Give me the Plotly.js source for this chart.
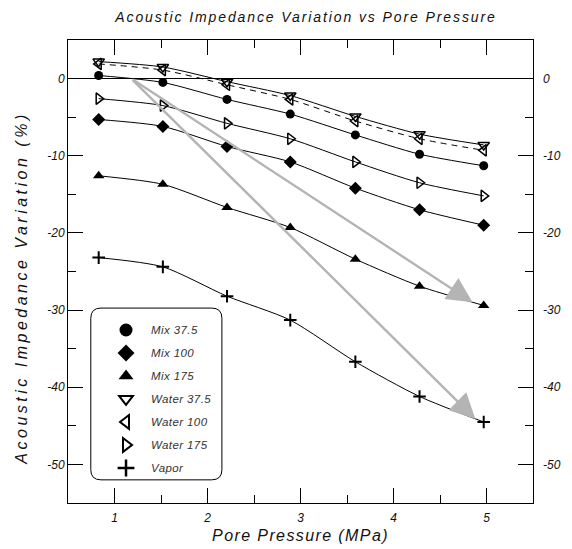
<!DOCTYPE html>
<html>
<head>
<meta charset="utf-8">
<script src="https://cdn.plot.ly/plotly-3.0.1.min.js"></script>
<style>
  html, body { margin: 0; padding: 0; background: #fff; }
  #chart { width: 572px; height: 549px; }
  .gtitle { letter-spacing: 1.9px; }
  .xtitle { letter-spacing: 1.4px; }
  .annotation-text { letter-spacing: 3.5px; }
  .legendtext { letter-spacing: 0.4px; }
</style>
</head>
<body>
<div id="chart"></div>
<script>
// ---- data ----
const porePressure = [0.83, 1.52, 2.21, 2.89, 3.59, 4.28, 4.97];

const mix375   = [0.4, -0.5, -2.7, -4.6, -7.3, -9.8, -11.3];
const mix100   = [-5.3, -6.2, -8.8, -10.8, -14.2, -17.0, -19.0];
const mix175   = [-12.6, -13.7, -16.7, -19.3, -23.4, -26.9, -29.4];
const water375 = [2.2, 1.5, -0.4, -2.2, -4.9, -7.2, -8.6];
const water100 = [1.9, 1.1, -0.8, -2.7, -5.5, -7.8, -9.3];
const water175 = [-2.6, -3.5, -5.8, -7.8, -10.8, -13.5, -15.2];
const vapor    = [-23.2, -24.4, -28.2, -31.3, -36.7, -41.2, -44.5];

const seriesNames = ["Mix 37.5", "Mix 100", "Mix 175", "Water 37.5", "Water 100", "Water 175", "Vapor"];
const seriesValues = [mix375, mix100, mix175, water375, water100, water175, vapor];

// arrows (data coordinates): common start and two tips
const arrowStart = [1.18, 0];
const arrowTips = [[4.85, -29.0], [4.88, -44.1]];

const yTickVals = [0, -10, -20, -30, -40, -50];
const xTickVals = [1, 2, 3, 4, 5];

// ---- styles ----
const symbols = ["circle", "diamond", "triangle-up", "triangle-down-open", "triangle-left-open", "triangle-right-open", "cross-thin-open"];
const plotSizes = [9, 10, 10, 10, 10, 10, 9];
const legendSizes = [13, 13, 13, 12, 12, 12, 12];
const dashes = ["solid", "solid", "solid", "solid", "6px,5px", "solid", "solid"];

const FONT = "Liberation Sans, Arial, Helvetica, sans-serif";
const traces = [];

seriesNames.forEach((name, i) => {
  const open = symbols[i].indexOf("open") >= 0;
  const isCross = symbols[i].indexOf("cross") >= 0;
  // fitted smooth curve
  traces.push({
    x: porePressure, y: seriesValues[i], type: "scatter", mode: "lines",
    line: { color: "#000", width: 1, shape: "spline", smoothing: 0.7, dash: dashes[i] },
    legendgroup: "g" + i, showlegend: false, hoverinfo: "skip", xaxis: "x", yaxis: "y"
  });
  // measured points
  traces.push({
    x: porePressure, y: seriesValues[i], type: "scatter", mode: "markers", name: name,
    marker: { symbol: symbols[i], size: plotSizes[i], color: "#000",
              line: { color: "#000", width: isCross ? 2 : (open ? 1.5 : 0) } },
    legendgroup: "g" + i, showlegend: false, xaxis: "x", yaxis: "y"
  });
  // legend entry
  traces.push({
    x: [null], y: [null], type: "scatter", mode: "markers", name: name,
    marker: { symbol: symbols[i], size: legendSizes[i], color: "#000",
              line: { color: "#000", width: isCross ? 2.5 : (open ? 2 : 0) } },
    legendgroup: "g" + i, showlegend: true, xaxis: "x", yaxis: "y"
  });
});

// dummy trace to activate right axis
traces.push({ x: [null], y: [null], type: "scatter", mode: "markers", xaxis: "x", yaxis: "y2", showlegend: false, hoverinfo: "skip" });

const annotations = arrowTips.map(t => ({
  x: t[0], y: t[1], xref: "x", yref: "y",
  ax: arrowStart[0], ay: arrowStart[1], axref: "x", ayref: "y",
  text: "", showarrow: true, arrowhead: 2, arrowsize: 2.1, arrowwidth: 2.4,
  arrowcolor: "#b4b4b4", standoff: 0
}));

// y-axis title as rotated annotation
annotations.push({
  text: "Acoustic Impedance Variation (%)", xref: "paper", yref: "paper",
  x: -0.099, y: 0.465, xanchor: "center", yanchor: "middle", textangle: -90,
  showarrow: false, font: { family: FONT, size: 16, color: "#111", style: "italic" }
});

// rounded legend frame (paper coordinates)
const bx0 = 0.049, bx1 = 0.331, by0 = 0.050, by1 = 0.421, r = 0.022;
const boxPath = `M${bx0 + r},${by1} L${bx1 - r},${by1} Q${bx1},${by1} ${bx1},${by1 - r} ` +
  `L${bx1},${by0 + r} Q${bx1},${by0} ${bx1 - r},${by0} L${bx0 + r},${by0} ` +
  `Q${bx0},${by0} ${bx0},${by0 + r} L${bx0},${by1 - r} Q${bx0},${by1} ${bx0 + r},${by1} Z`;

const tickFont = { family: FONT, size: 12, color: "#111", style: "italic" };

const layout = {
  width: 572, height: 549,
  margin: { l: 68, r: 39, t: 40, b: 46, pad: 0 },
  paper_bgcolor: "#fff", plot_bgcolor: "#fff",
  showlegend: true,
  title: {
    text: "Acoustic Impedance Variation vs Pore Pressure",
    font: { family: FONT, size: 14, color: "#111", style: "italic" },
    x: 0.535, xanchor: "center", y: 0.969, yref: "container", yanchor: "middle"
  },
  xaxis: {
    range: [0.5, 5.5], tickvals: xTickVals, ticktext: xTickVals.map(String),
    ticks: "inside", ticklen: 15, tickwidth: 1, tickcolor: "#000",
    minor: { dtick: 0.5, tick0: 0.5, ticks: "inside", ticklen: 8, tickwidth: 1, tickcolor: "#000", showgrid: false },
    showline: true, linecolor: "#000", linewidth: 1, mirror: "ticks",
    showgrid: false, zeroline: false, tickfont: tickFont, ticklabelstandoff: 4,
    title: { text: "Pore Pressure (MPa)", font: { family: FONT, size: 16, color: "#111", style: "italic" }, standoff: 5 },
    automargin: false, fixedrange: true
  },
  yaxis: {
    range: [-55, 5], tickvals: yTickVals, ticktext: yTickVals.map(String),
    ticks: "inside", ticklen: 15, tickwidth: 1, tickcolor: "#000",
    minor: { dtick: 5, tick0: 0, ticks: "inside", ticklen: 8, tickwidth: 1, tickcolor: "#000", showgrid: false },
    showline: true, linecolor: "#000", linewidth: 1, mirror: "ticks",
    showgrid: false, zeroline: true, zerolinecolor: "#000", zerolinewidth: 1,
    tickfont: tickFont, ticklabelstandoff: 0,
    automargin: false, fixedrange: true
  },
  yaxis2: {
    overlaying: "y", side: "right", matches: "y", range: [-55, 5],
    tickvals: yTickVals, ticktext: yTickVals.map(String),
    ticks: "", showline: false, showgrid: false, zeroline: false,
    tickfont: tickFont, ticklabelstandoff: 9, automargin: false, fixedrange: true
  },
  legend: {
    x: 0.071, xanchor: "left", y: 0.405, yanchor: "top",
    bgcolor: "rgba(0,0,0,0)", borderwidth: 0, itemwidth: 40,
    font: { family: FONT, size: 11.5, color: "#333", style: "italic" },
    traceorder: "grouped", tracegroupgap: 4, itemclick: false, itemdoubleclick: false
  },
  shapes: [{ type: "path", xref: "paper", yref: "paper", path: boxPath,
             line: { color: "#000", width: 1 }, fillcolor: "rgba(0,0,0,0)", layer: "above" }],
  annotations: annotations
};

Plotly.newPlot("chart", traces, layout, { displayModeBar: false });
</script>
</body>
</html>
